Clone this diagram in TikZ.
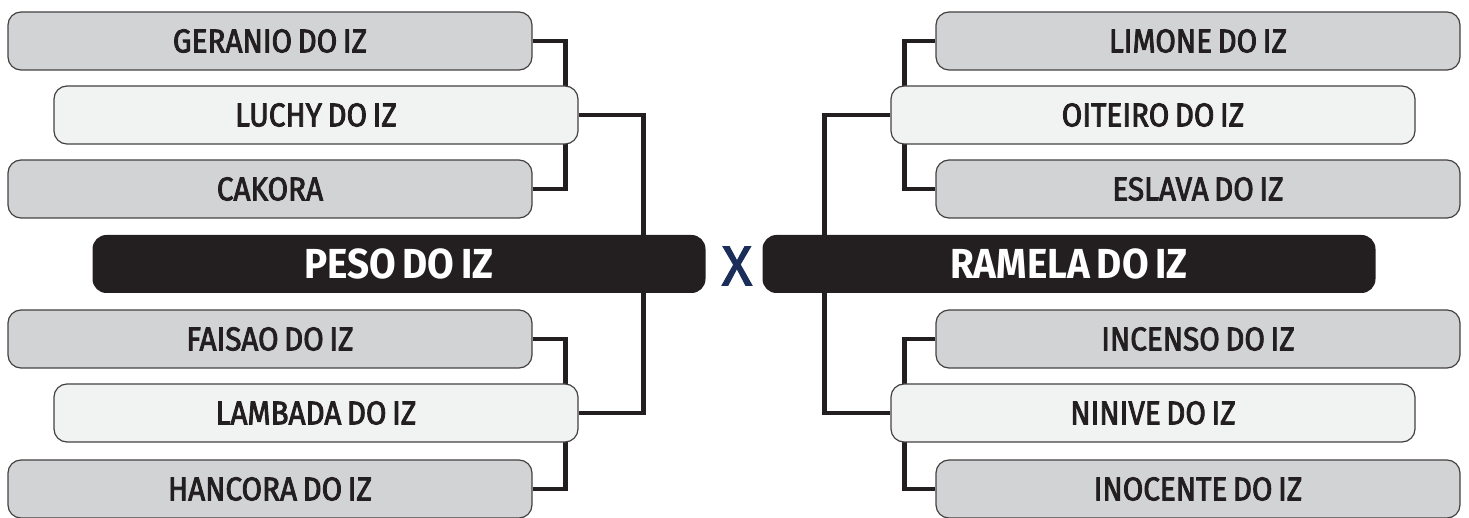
\documentclass[tikz,border=0pt]{standalone}
\usepackage{fontspec}
\setmainfont{Fira Sans}
\newfontfamily\namefont{Fira Sans}[FakeBold=2.5, FakeStretch=0.9, WordSpace=0.7]
\newfontfamily\finalfont{Fira Sans Bold}[FakeStretch=0.92, WordSpace=0.75]
\newfontfamily\versusfont{Fira Sans}[FakeBold=2]
\usepackage{tikz}
\usetikzlibrary{backgrounds}
\definecolor{boxgray}{HTML}{D1D3D4}
\definecolor{boxlight}{HTML}{F1F2F2}
\definecolor{boxdark}{HTML}{231F20}
\definecolor{versus}{HTML}{1B2E59}
\tikzset{
	namebox/.style={draw=boxdark!85, line width=0.6pt, rounded corners=6.5pt,
		minimum width=262pt, minimum height=29pt, inner sep=0pt,
		font=\namefont\fontsize{16.5}{16.5}\selectfont, text=boxdark},
	outerbox/.style={namebox, fill=boxgray},
	innerbox/.style={namebox, fill=boxlight},
	finalbox/.style={fill=boxdark, rounded corners=7pt, minimum width=306.5pt,
		minimum height=29pt, inner sep=0pt, text=white,
		font=\finalfont\fontsize{21}{21}\selectfont},
	wire/.style={draw=boxdark, line width=2.3pt}
}
\begin{document}
\begin{tikzpicture}[x=0.5pt, y=-0.5pt]
		\useasboundingbox (0,0) rectangle (1469,518);
		%left
		\node [outerbox] (ger) at (270,41) {GERANIO DO IZ};
		\node [innerbox] (luc) at (316,115) {LUCHY DO IZ};
		\node [outerbox] (cak) at (270,189) {CAKORA};
		\node [finalbox] (peso) at (399,264) {PESO DO IZ};
		\node [outerbox] (fai) at (270,339) {FAISAO DO IZ};
		\node [innerbox] (lam) at (316,413) {LAMBADA DO IZ};
		\node [outerbox] (han) at (270,489) {HANCORA DO IZ};
		%right
		\node [outerbox] (lim) at (1198,41) {LIMONE DO IZ};
		\node [innerbox] (oit) at (1153,115) {OITEIRO DO IZ};
		\node [outerbox] (esl) at (1198,189) {ESLAVA DO IZ};
		\node [finalbox] (ram) at (1069,264) {RAMELA DO IZ};
		\node [outerbox] (inc) at (1198,339) {INCENSO DO IZ};
		\node [innerbox] (nin) at (1153,413) {NINIVE DO IZ};
		\node [outerbox] (ino) at (1198,489) {INOCENTE DO IZ};
		%x
		\node [text=versus, font=\versusfont\fontsize{28}{28}\selectfont] (vs) at (737,266) {X};
		\begin{pgfonlayer}{background}
			%left
			\draw [wire] (ger.east) -- ++(33,0) |- (cak.east);
			\draw [wire] (fai.east) -- ++(33,0) |- (han.east);
			\draw [wire] (luc.east) -- ++(65,0) |- (lam.east);
			%right
			\draw [wire] (lim.west) -- ++(-31,0) |- (esl.west);
			\draw [wire] (inc.west) -- ++(-31,0) |- (ino.west);
			\draw [wire] (oit.west) -- ++(-66,0) |- (nin.west);
		\end{pgfonlayer}
\end{tikzpicture}
\end{document}
